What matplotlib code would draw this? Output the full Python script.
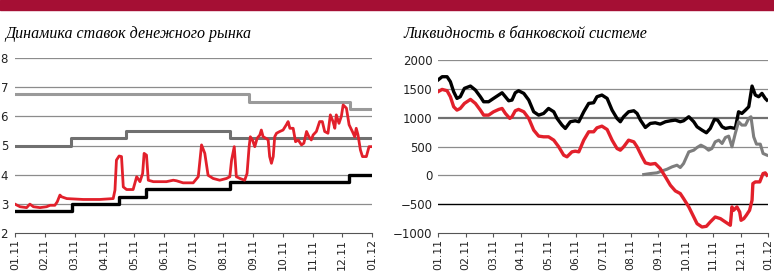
import matplotlib.pyplot as plt
from matplotlib.patches import Rectangle

# month positions: 0 = 01.11, 12 = 01.12
month_labels = ["01.11", "02.11", "03.11", "04.11", "05.11", "06.11", "07.11",
                "08.11", "09.11", "10.11", "11.11", "12.11", "01.12"]

# --- left chart: money market rates ---
# step series (start month of each level, level)
dep_hi_x = [0, 7.87, 11.25, 12]
dep_hi_y = [6.75, 6.5, 6.25, 6.25]
dep_mid_x = [0, 1.87, 3.73, 7.22, 12]
dep_mid_y = [5.0, 5.25, 5.5, 5.25, 5.25]
dep_lo_x = [0, 1.90, 3.49, 4.42, 7.22, 11.23, 12]
dep_lo_y = [2.75, 3.0, 3.25, 3.5, 3.75, 4.0, 4.0]

mibor_x = [0.00, 0.17, 0.39, 0.50, 0.62, 0.84, 1.06, 1.18, 1.34, 1.42, 1.51, 1.57,
           1.74, 2.29, 2.85, 3.30, 3.36, 3.41, 3.50, 3.58, 3.64, 3.75, 3.97, 4.09,
           4.20, 4.29, 4.34, 4.42, 4.48, 4.65, 5.09, 5.32, 5.43, 5.65, 5.99, 6.16,
           6.27, 6.38, 6.49, 6.66, 6.88, 7.11, 7.22, 7.28, 7.37, 7.44, 7.56, 7.72,
           7.80, 7.87, 7.91, 7.98, 8.06, 8.14, 8.23, 8.28, 8.34, 8.43, 8.51, 8.56,
           8.62, 8.68, 8.73, 8.79, 8.90, 9.01, 9.12, 9.18, 9.24, 9.35, 9.43, 9.52,
           9.63, 9.71, 9.80, 9.88, 9.96, 10.02, 10.13, 10.24, 10.33, 10.41, 10.52,
           10.60, 10.69, 10.75, 10.80, 10.89, 10.97, 11.03, 11.14, 11.23, 11.34,
           11.42, 11.47, 11.53, 11.61, 11.68, 11.81, 11.90, 11.98]
mibor_y = [2.99, 2.90, 2.87, 2.99, 2.90, 2.87, 2.90, 2.95, 2.95, 3.07, 3.30, 3.24,
           3.18, 3.15, 3.15, 3.18, 3.47, 4.50, 4.64, 4.62, 3.58, 3.49, 3.49, 3.93,
           3.76, 4.04, 4.73, 4.67, 3.81, 3.76, 3.76, 3.81, 3.79, 3.72, 3.72, 3.93,
           5.02, 4.73, 3.98, 3.87, 3.81, 3.87, 3.93, 4.50, 4.96, 3.93, 3.87, 3.81,
           4.04, 4.96, 5.30, 5.19, 4.96, 5.25, 5.36, 5.53, 5.30, 5.25, 5.19, 4.62,
           4.39, 4.62, 5.30, 5.42, 5.48, 5.53, 5.71, 5.82, 5.59, 5.59, 5.13, 5.19,
           5.02, 5.08, 5.48, 5.30, 5.19, 5.36, 5.48, 5.82, 5.82, 5.48, 5.42,
           6.05, 5.82, 5.59, 6.05, 5.76, 6.00, 6.39, 6.28, 5.71, 5.48,
           5.30, 5.59, 5.36, 4.85, 4.62, 4.62, 4.96, 4.96]

# --- right chart: banking system liquidity ---
liq_x = [0, 0.15, 0.33, 0.45, 0.57, 0.69, 0.81, 0.96, 1.18, 1.36, 1.54, 1.66, 1.84,
         2.02, 2.15, 2.33, 2.45, 2.57, 2.69, 2.81, 2.93, 3.12, 3.30, 3.48, 3.66,
         3.84, 4.02, 4.21, 4.33, 4.51, 4.63, 4.81, 4.99, 5.12, 5.30, 5.48, 5.66,
         5.78, 5.96, 6.15, 6.33, 6.51, 6.63, 6.75, 6.93, 7.12, 7.24, 7.36, 7.54,
         7.72, 7.90, 8.08, 8.27, 8.45, 8.63, 8.81, 8.93, 9.12, 9.30, 9.42, 9.60,
         9.76, 9.90, 10.05, 10.17, 10.33, 10.45, 10.63, 10.81, 10.93, 11.05, 11.18,
         11.30, 11.42, 11.54, 11.66, 11.78, 11.90, 11.96]
liq_y = [1653, 1710, 1710, 1624, 1450, 1334, 1363, 1508, 1548, 1479, 1363, 1276, 1276,
         1334, 1375, 1432, 1363, 1293, 1305, 1432, 1467, 1421, 1305, 1102, 1044,
         1073, 1160, 1102, 987, 871, 813, 929, 946, 929, 1102, 1247, 1259,
         1363, 1392, 1334, 1131, 987, 929, 1016, 1102, 1120, 1073, 958, 830,
         900, 911, 888, 929, 946, 958, 929, 946, 1016, 929, 842, 784,
         738, 813, 969, 958, 842, 813, 830, 813, 1102, 1073, 1131,
         1189, 1548, 1392, 1363, 1421, 1334, 1305]

net_x = [0, 0.15, 0.33, 0.45, 0.57, 0.69, 0.81, 0.96, 1.18, 1.36, 1.54, 1.66, 1.84,
         2.02, 2.21, 2.33, 2.45, 2.61, 2.69, 2.81, 2.93, 3.12, 3.30, 3.48, 3.66,
         3.84, 4.02, 4.21, 4.39, 4.57, 4.69, 4.87, 4.99, 5.12, 5.30, 5.48, 5.66,
         5.78, 5.96, 6.15, 6.33, 6.51, 6.63, 6.75, 6.93, 7.12, 7.24, 7.42, 7.54,
         7.72, 7.90, 8.08, 8.27, 8.45, 8.63, 8.81, 8.93, 9.12, 9.30, 9.42, 9.60,
         9.76, 9.90, 10.08, 10.27, 10.45, 10.63, 10.69, 10.75, 10.87, 10.97, 11.02,
         11.12, 11.21, 11.33, 11.42, 11.45, 11.54, 11.70, 11.82, 11.90, 11.96]
net_y = [1450, 1490, 1467, 1363, 1189, 1131, 1160, 1247, 1317, 1247, 1131, 1044, 1044,
         1102, 1143, 1160, 1073, 987, 1016, 1120, 1143, 1102, 987, 784, 680,
         668, 668, 610, 494, 350, 321, 407, 419, 407, 610, 755, 755,
         824, 853, 795, 610, 465, 436, 494, 610, 581, 494, 321, 216,
         193, 205, 118, -27, -172, -270, -316, -403, -548, -722, -838, -896,
         -884, -809, -722, -751, -809, -866, -548, -606, -548, -635, -780,
         -751, -693, -606, -432, -143, -114, -114, 31, 43, 2]

gray_x = [7.48, 7.72, 7.96, 8.15, 8.33, 8.51, 8.69, 8.81, 8.93, 9.12, 9.30, 9.42,
          9.56, 9.72, 9.84, 9.96, 10.08, 10.21, 10.33, 10.45, 10.57, 10.69, 10.81,
          10.93, 11.05, 11.18, 11.30, 11.38, 11.48, 11.58, 11.72, 11.82, 11.96]
gray_y = [14, 31, 43, 77, 106, 147, 176, 135, 205, 407, 436, 483,
          523, 483, 436, 465, 581, 610, 552, 656, 680, 494, 726,
          929, 871, 871, 987, 1016, 668, 541, 541, 379, 350]

RED = "#e2202b"
W, H = 774, 273
fig = plt.figure(figsize=(W / 100, H / 100), dpi=100)

# maroon band across the top
fig.patches.append(Rectangle((0, 1 - 10 / H), 1, 10 / H, transform=fig.transFigure,
                             color="#a50f34", zorder=0))

title_font = dict(family="Liberation Serif", style="italic", size=11.5)
fig.text(5 / W, 1 - 38 / H, "Динамика ставок денежного рынка", **title_font)
fig.text(403 / W, 1 - 38 / H, "Ликвидность в банковской системе", **title_font)


def style_axis(ax):
    ax.set_xlim(0, 12)
    ax.set_xticks(range(13))
    ax.set_xticklabels(month_labels, rotation=90, fontsize=7.8, family="DejaVu Sans")
    for s in ["top", "right", "left"]:
        ax.spines[s].set_visible(False)
    ax.spines["bottom"].set_color("#555555")
    ax.tick_params(axis="x", length=3, color="#555555", pad=1.5, labelcolor="#222222")
    ax.tick_params(axis="y", length=0, pad=4, labelsize=8.5, labelcolor="#222222")
    ax.set_facecolor("none")


# left chart
ax1 = fig.add_axes([15 / W, 40 / H, 357 / W, 175 / H])
for v in range(3, 9):
    ax1.axhline(v, color="#8c8c8c", lw=0.9, zorder=1)
ax1.plot(dep_hi_x, dep_hi_y, drawstyle="steps-post", color="#9a9a9a", lw=2.2, zorder=2)
ax1.plot(dep_mid_x, dep_mid_y, drawstyle="steps-post", color="#707070", lw=2.2, zorder=2)
ax1.plot(dep_lo_x, dep_lo_y, drawstyle="steps-post", color="black", lw=2.4, zorder=2)
ax1.plot(mibor_x, mibor_y, color=RED, lw=2.0, zorder=3)
ax1.set_ylim(2, 8)
ax1.set_yticks(range(2, 9))
style_axis(ax1)
ax1.tick_params(axis="y", pad=5)

# right chart
ax2 = fig.add_axes([438 / W, 40 / H, 330 / W, 173 / H])
for v in [500, 1500, 2000, 0]:
    ax2.axhline(v, color="#8c8c8c", lw=0.9, zorder=1)
ax2.axhline(1000, color="#707070", lw=1.6, zorder=1)
ax2.axhline(-500, color="black", lw=1.0, zorder=1)
ax2.plot(liq_x, liq_y, color="black", lw=2.4, zorder=2)
ax2.plot(gray_x, gray_y, color="#7d7d7d", lw=2.2, zorder=2)
ax2.plot(net_x, net_y, color=RED, lw=2.4, zorder=3)
ax2.set_ylim(-1000, 2000)
ax2.set_yticks(range(-1000, 2001, 500))
style_axis(ax2)

fig.savefig("out.png", dpi=100)
